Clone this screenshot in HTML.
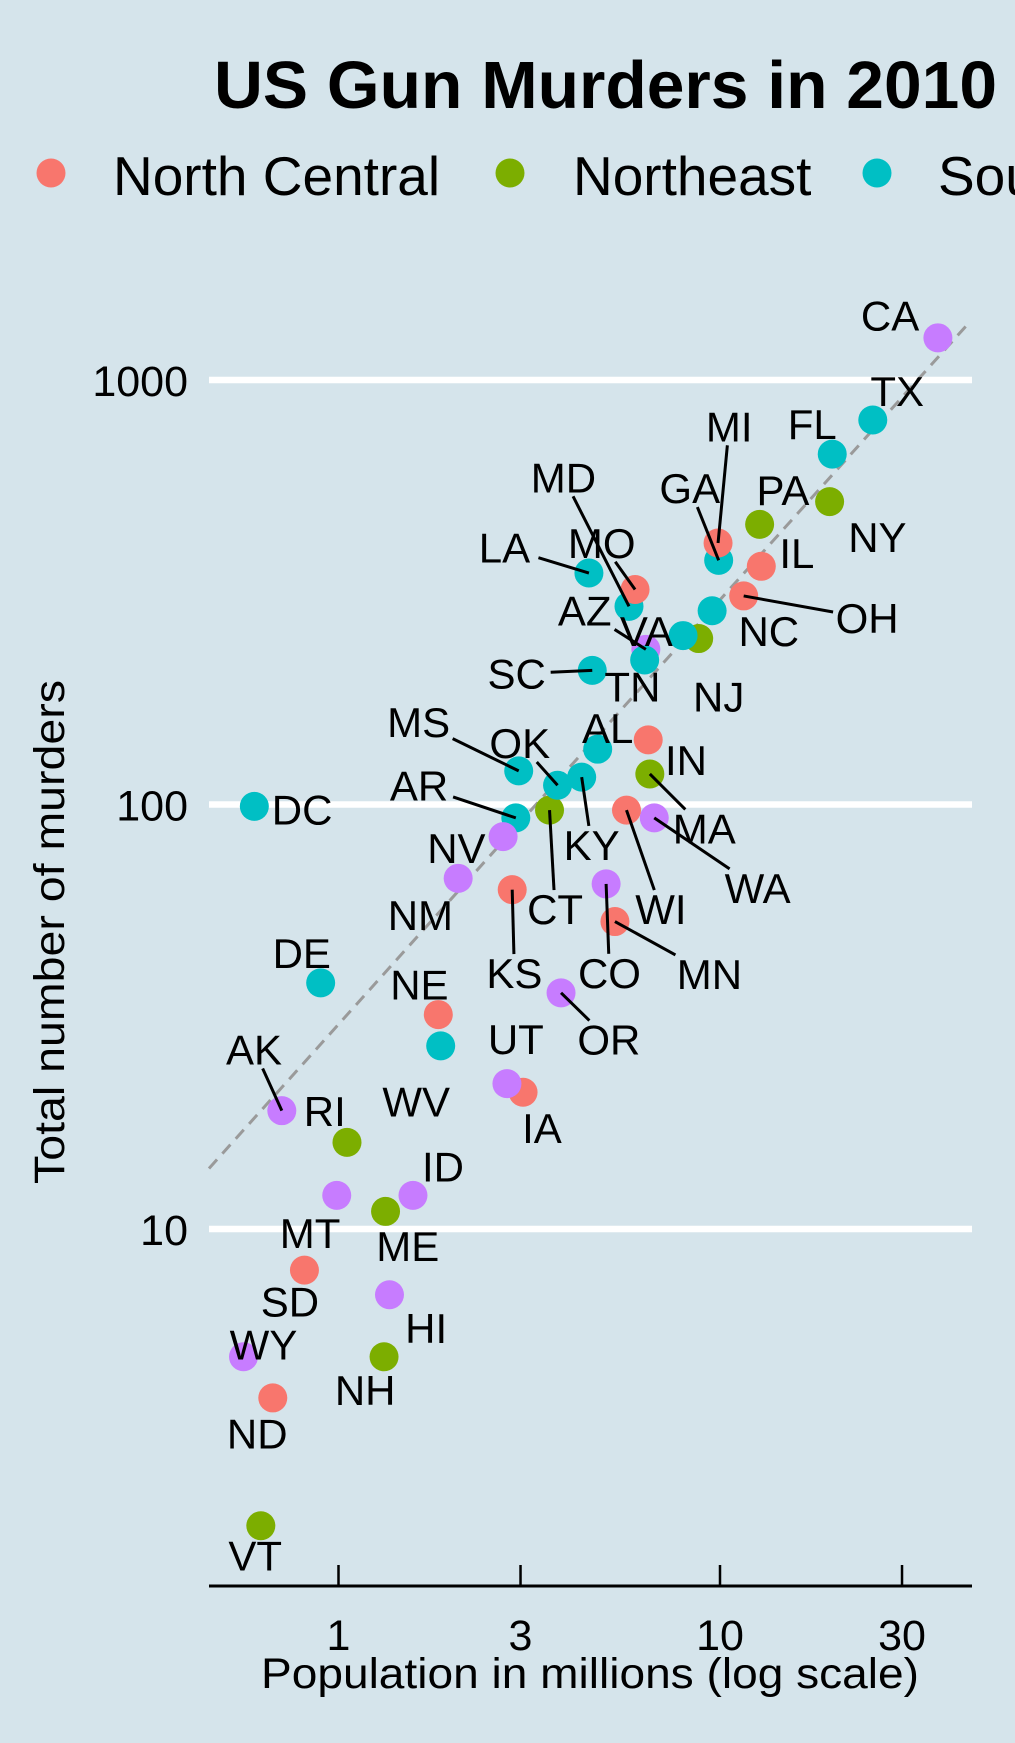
<!DOCTYPE html>
<html><head><meta charset="utf-8"><style>
html,body{margin:0;padding:0;background:#d5e4eb;}
svg{display:block;font-family:"Liberation Sans",sans-serif;}
</style></head><body>
<svg id="chart" width="1015" height="1743" viewBox="0 0 1015 1743">
<rect x="0" y="0" width="1015" height="1743" fill="#d5e4eb"/>
<text x="214" y="108" font-size="67" font-weight="bold" textLength="783" lengthAdjust="spacingAndGlyphs">US Gun Murders in 2010</text>
<g id="legend"></g>
<g id="grid"></g>
<g id="plot"></g>
<text x="64" y="932" font-size="43" text-anchor="middle" transform="rotate(-90 64 932)" textLength="504" lengthAdjust="spacingAndGlyphs">Total number of murders</text>
<text x="590" y="1688" font-size="43" text-anchor="middle" textLength="658" lengthAdjust="spacingAndGlyphs">Population in millions (log scale)</text>
</svg>
<script>
const states = ["AL","AK","AZ","AR","CA","CO","CT","DE","DC","FL","GA","HI","ID","IL","IN","IA","KS","KY","LA","ME","MD","MA","MI","MN","MS","MO","MT","NE","NV","NH","NJ","NM","NY","NC","ND","OH","OK","OR","PA","RI","SC","SD","TN","TX","UT","VT","VA","WA","WV","WI","WY"];
const population = [4.779736,0.710231,6.392017,2.915918,37.253956,5.029196,3.574097,0.897934,0.601723,19.687653,9.92,1.360301,1.567582,12.830632,6.483802,3.046355,2.853118,4.339367,4.533372,1.328361,5.773552,6.547629,9.88364,5.303925,2.967297,5.988927,0.989415,1.826341,2.700551,1.31647,8.791894,2.059179,19.378102,9.535483,0.672591,11.536504,3.751351,3.831074,12.702379,1.052567,4.625364,0.81418,6.346105,25.145561,2.763885,0.625741,8.001024,6.72454,1.852994,5.686986,0.563626];
const murders = [135,19,232,93,1257,65,97,38,99,669,376,7,12,364,142,21,63,116,351,11,293,118,413,53,120,321,12,32,84,5,246,67,517,286,4,310,111,36,457,16,207,8,219,805,22,2,250,93,27,97,5];
const regions = ["South","West","West","South","West","West","Northeast","South","South","South","South","West","West","North Central","North Central","North Central","North Central","South","South","Northeast","South","Northeast","North Central","North Central","South","North Central","West","North Central","West","Northeast","Northeast","West","Northeast","South","North Central","North Central","South","West","Northeast","Northeast","South","North Central","South","South","West","Northeast","South","West","South","North Central","West"];
const regionNames = ["North Central","Northeast","South","West"];
const regionColors = ["#F8766D","#7CAE00","#00BFC4","#C77CFF"];
const xTicks = [1,3,10,30];
const xTickLabels = ["1","3","10","30"];
const yTicks = [10,100,1000];
const yTickLabels = ["10","100","1000"];
// label placement offsets (repel layout, px) and whether a leader segment is drawn
const labelDx = {AL:9,AK:-25,AZ:-55,AR:-87,CA:-43,CO:3,CT:5,DE:-17,DC:43,FL:-18,GA:-26,HI:33,ID:27,IL:32,IN:34,IA:17,KS:2,KY:9,LA:-76,ME:20,MD:-59,MA:49,MI:10,MN:85,MS:-90,MO:-30,MT:-24,NE:-17,NV:-42,NH:-17,NJ:18,NM:-34,NY:43,NC:51,ND:-14,OH:111,OK:-34,OR:43,PA:21,RI:-20,SC:-68,SD:-13,TN:-11,TX:22,UT:8,VT:-5,VA:-33,WA:93,WV:-22,WI:31,WY:18};
const labelDy = {AL:-19,AK:-55,AZ:-35,AR:-29,CA:-20,CO:80,CT:89,DE:-27,DC:3,FL:-27,GA:-65,HI:30,ID:-26,IL:-12,IN:18,IA:32,KS:75,KY:61,LA:-23,ME:31,MD:-116,MA:49,MI:-105,MN:47,MS:-44,MO:-42,MT:34,NE:-27,NV:10,NH:30,NJ:52,NM:33,NY:32,NC:18,ND:32,OH:20,OK:-38,OR:42,PA:-31,RI:-28,SC:3,SD:28,TN:24,TX:-26,UT:-40,VT:27,VA:-4,WA:63,WV:50,WI:89,WY:-11};
const labelSeg = ["AK","AZ","AR","CO","CT","GA","KS","KY","LA","MD","MA","MI","MN","MS","OH","OK","OR","SC","WA","WI","MO"];

const NS = "http://www.w3.org/2000/svg";
const S = 1015/913;
const X0 = 338.5, XD = 381.5, Y1000 = 380, YD = 424.5;
function xScale(v){ return X0 + Math.log10(v)*XD; }
function yScale(v){ return Y1000 + (3 - Math.log10(v))*YD; }
function mk(tag, attrs, parent){ const e=document.createElementNS(NS,tag); for(const k in attrs) e.setAttribute(k,attrs[k]); parent.appendChild(e); return e; }

const grid = document.getElementById('grid');
const plot = document.getElementById('plot');
const legend = document.getElementById('legend');

// legend (West entry lies beyond the right edge)
const legX = [51,510,877,1260], legTX = [113,573,938,1320];
regionNames.forEach((r,i)=>{
  const c = mk('circle',{cx:legX[i],cy:173,r:14.5,fill:regionColors[i]},legend);
  
  
  const t = mk('text',{x:legTX[i],y:195,'font-size':55},legend);
  t.textContent = r;
  
  
});

// gridlines & y labels
yTicks.forEach((v,i)=>{
  const y = yScale(v);
  const l = mk('line',{x1:209,x2:972,y1:y,y2:y,stroke:'#fff','stroke-width':6.5},grid);
  
  
  const t = mk('text',{x:188,y:y+16,'font-size':43,'text-anchor':'end'},grid);
  t.textContent = yTickLabels[i];
  
  
});

// x axis
const ax = mk('line',{x1:209,x2:972,y1:1586,y2:1586,stroke:'#000','stroke-width':3},grid);


xTicks.forEach((v,i)=>{
  const x = xScale(v);
  const tk = mk('line',{x1:x,x2:x,y1:1565,y2:1586,stroke:'#000','stroke-width':2.5},grid);
  
  
  const t = mk('text',{x:x,y:1650,'font-size':43,'text-anchor':'middle'},grid);
  t.textContent = xTickLabels[i];
  
  
});

// reference line: murders = rate * population
const rate = murders.reduce((a,b)=>a+b,0)/population.reduce((a,b)=>a+b,0);
const pLo = Math.pow(10,(209-X0)/XD), pHi = Math.pow(10,(969-X0)/XD);
const ref = mk('line',{x1:xScale(pLo),y1:yScale(pLo*rate),x2:xScale(pHi),y2:yScale(pHi*rate),stroke:'#9a9a9a','stroke-width':3,'stroke-dasharray':'12 8'},plot);



// points
states.forEach((s,i)=>{
  const c = mk('circle',{cx:xScale(population[i]),cy:yScale(murders[i]),r:14.5,fill:regionColors[regionNames.indexOf(regions[i])]},plot);
  
  
});
// labels
states.forEach((s,i)=>{
  const px = xScale(population[i]), py = yScale(murders[i]);
  const lx = px + labelDx[s]*S, ly = py + labelDy[s]*S;
  if(labelSeg.includes(s)){
    const hw = s.length*15+4, hh = 19;
    const dx = px-lx, dy = py-ly;
    const t = Math.min(Math.abs(dx)>0?hw/Math.abs(dx):1e9, Math.abs(dy)>0?hh/Math.abs(dy):1e9);
    const ex = lx+dx*Math.min(t,1), ey = ly+dy*Math.min(t,1);
    const seg = mk('line',{x1:px,y1:py,x2:ex,y2:ey,stroke:'#000','stroke-width':3},plot);
    
    
  }
  const t = mk('text',{x:lx,y:ly+15,'font-size':42,'text-anchor':'middle'},plot);
  t.textContent = s;
  
  
});
</script>
</body></html>
